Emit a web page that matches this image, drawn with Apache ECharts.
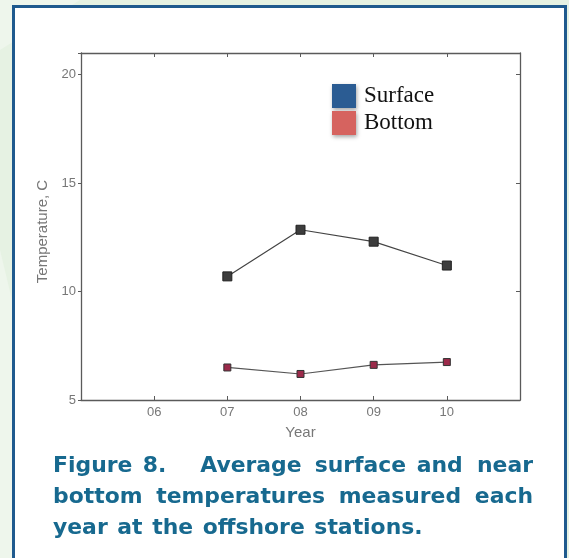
<!DOCTYPE html>
<html><head><meta charset="utf-8">
<script src="https://cdn.jsdelivr.net/npm/echarts@6/dist/echarts.min.js"></script>
<style>html,body{margin:0;padding:0;background:#eaf4e8;}#c{width:569px;height:558px;}</style>
</head><body><div id="c"></div>
<script>
const years = [7, 8, 9, 10];
const surface = [10.7, 12.85, 12.3, 11.2];
const bottom = [6.5, 6.2, 6.62, 6.75];
const xTickLabels = {6:'06', 7:'07', 8:'08', 9:'09', 10:'10'};
const yTickValues = [5, 10, 15, 20];
const seriesNames = ['Surface', 'Bottom'];
const legendColors = ['#2b5c93', '#d6635f'];
const captionLines = [
  ['Figure', '8.', 'Average', 'surface', 'and', 'near'],
  ['bottom', 'temperatures', 'measured', 'each'],
  ['year', 'at', 'the', 'offshore', 'stations.']
];

const chart = echarts.init(document.getElementById('c'), null, {renderer: 'canvas'});

const ctx = document.createElement('canvas').getContext('2d');
let capSize = 21;
let capFont = 'bold ' + capSize + 'px "DejaVu Sans"';
ctx.font = capFont;
{
  const w = ctx.measureText(captionLines[2].join(' ')).width;
  capSize = Math.max(19, Math.min(22, 21 * 362 / w));
  capFont = 'bold ' + capSize.toFixed(1) + 'px "DejaVu Sans"';
  ctx.font = capFont;
}
function lineWords(words, y, justify, weights) {
  const x0 = 53, x1 = 533;
  const widths = words.map(w => ctx.measureText(w).width);
  const total = widths.reduce((a, b) => a + b, 0);
  weights = weights || words.slice(1).map(() => 1);
  const wsum = weights.reduce((a, b) => a + b, 0);
  const unit = justify ? (x1 - x0 - total) / wsum : ctx.measureText(' ').width + 2;
  let x = x0; const out = [];
  words.forEach((w, i) => {
    out.push({type: 'text', left: x, top: y - capSize * 0.62, silent: true,
      style: {text: w, font: capFont, fill: '#17698f'}});
    x += widths[i] + (i < weights.length ? weights[i] * unit : 0);
  });
  return out;
}
const captionEls = [].concat(
  lineWords(captionLines[0], 469, true, [0.8, 2.6, 1, 0.8, 1.1]),
  lineWords(captionLines[1], 500, true),
  lineWords(captionLines[2], 531, false)
);

const axisCol = '#5a5a5a';
const lblStyle = {color: '#777', fontFamily: 'Arial', fontSize: 13};
const mk = (xs, ys) => xs.map((x, i) => [x, ys[i]]);

chart.setOption({
  animation: false,
  backgroundColor: '#e6f2e3',
  graphic: [
    {type: 'polygon', silent: true, z: -10, shape: {points: [[0, 0], [80, 0], [0, 50]]}, style: {fill: '#eef6ec'}},
    {type: 'polygon', silent: true, z: -10, shape: {points: [[0, 250], [12, 300], [12, 558], [0, 558]]}, style: {fill: '#eef6ec'}},
    {type: 'rect', silent: true, z: -5, shape: {x: 13.5, y: 6.5, width: 552, height: 570},
      style: {fill: '#ffffff', stroke: '#1f5a8e', lineWidth: 3}},
    ...captionEls
  ],
  grid: {left: 81, top: 53, right: 49, bottom: 158, show: false},
  legend: {
    left: 332, top: 84, orient: 'vertical', itemGap: 3, padding: 0,
    itemWidth: 24, itemHeight: 24, icon: 'rect',
    textStyle: {fontFamily: '"Liberation Serif", serif', fontSize: 23, color: '#111', padding: [0, 0, 0, 3]},
    data: seriesNames.map((n, i) => ({name: n, itemStyle: {color: legendColors[i], borderWidth: 0,
      shadowBlur: 4, shadowColor: 'rgba(0,0,0,0.35)', shadowOffsetX: 1, shadowOffsetY: 2}}))
  },
  xAxis: [
    {type: 'value', min: 5, max: 11, interval: 1, position: 'bottom',
     name: 'Year', nameLocation: 'middle', nameGap: 25,
     nameTextStyle: {color: '#777', fontFamily: 'Arial', fontSize: 15},
     axisLine: {lineStyle: {color: axisCol, width: 1.3}},
     axisTick: {inside: true, length: 4, lineStyle: {color: axisCol}},
     axisLabel: Object.assign({margin: 6, formatter: v => xTickLabels[v] || ''}, lblStyle),
     splitLine: {show: false}},
    {type: 'value', min: 5, max: 11, interval: 1, position: 'top',
     axisLine: {lineStyle: {color: axisCol, width: 1.3}},
     axisTick: {inside: true, length: 4, lineStyle: {color: axisCol}},
     axisLabel: {show: false}, splitLine: {show: false}}
  ],
  yAxis: [
    {type: 'value', min: 5, max: 21, interval: 5, position: 'left',
     name: 'Temperature, C', nameLocation: 'middle', nameGap: 26, nameRotate: 90,
     nameTextStyle: {color: '#777', fontFamily: 'Arial', fontSize: 15, padding: [0, 10, 0, 0]},
     axisLine: {show: true, lineStyle: {color: axisCol, width: 1.3}},
     axisTick: {inside: false, length: 3, lineStyle: {color: axisCol}},
     axisLabel: Object.assign({margin: 5, formatter: v => yTickValues.includes(v) ? String(v) : ''}, lblStyle),
     splitLine: {show: false}},
    {type: 'value', min: 5, max: 21, interval: 5, position: 'right',
     axisLine: {show: true, lineStyle: {color: axisCol, width: 1.3}},
     axisTick: {inside: true, length: 4, lineStyle: {color: axisCol}},
     axisLabel: {show: false}, splitLine: {show: false}}
  ],
  series: [
    {name: seriesNames[0], type: 'line', data: mk(years, surface),
     symbol: 'rect', symbolSize: 9, color: '#333',
     itemStyle: {color: '#3d3d3d', borderColor: '#222', borderWidth: 1},
     lineStyle: {color: '#444', width: 1.2}},
    {name: seriesNames[1], type: 'line', data: mk(years, bottom),
     symbol: 'rect', symbolSize: 7, color: '#9b2a4a',
     itemStyle: {color: '#9b2a4a', borderColor: '#333', borderWidth: 1},
     lineStyle: {color: '#555', width: 1.2}}
  ]
});
</script></body></html>
